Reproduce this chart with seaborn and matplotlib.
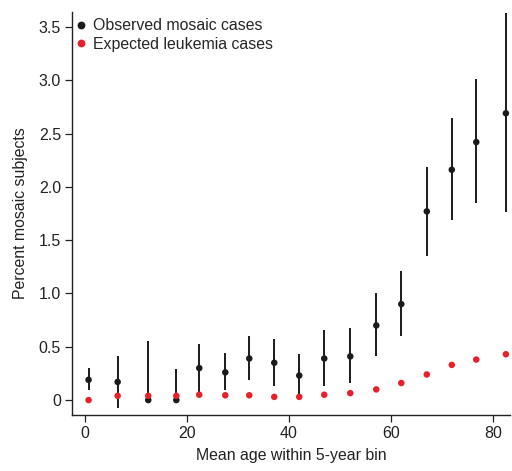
import numpy as np
import pandas as pd
import matplotlib
matplotlib.use("Agg")
import matplotlib.pyplot as plt
import seaborn as sns

# Mean age per 5-year bin
age = [0.7, 6.4, 12.4, 17.9, 22.4, 27.5, 32.2, 37.1, 42.0, 46.9, 52.0, 57.1, 62.0, 67.0, 71.9, 76.7, 82.5]
# Observed mosaic cases (%) with error bar limits
observed = [0.19, 0.17, 0.0, 0.0, 0.30, 0.26, 0.39, 0.35, 0.23, 0.39, 0.41, 0.70, 0.90, 1.77, 2.16, 2.42, 2.69]
obs_low = [0.09, -0.07, 0.0, 0.0, 0.08, 0.09, 0.19, 0.13, 0.0, 0.13, 0.16, 0.41, 0.60, 1.35, 1.69, 1.85, 1.76]
obs_high = [0.30, 0.41, 0.55, 0.29, 0.53, 0.44, 0.60, 0.57, 0.43, 0.66, 0.68, 1.00, 1.21, 2.19, 2.65, 3.01, 3.63]
# Expected leukemia cases (%)
expected = [0.0, 0.04, 0.04, 0.04, 0.05, 0.045, 0.045, 0.03, 0.03, 0.05, 0.065, 0.10, 0.16, 0.24, 0.33, 0.38, 0.43]

sns.set_style("ticks")
plt.rcParams['font.family'] = ['Liberation Sans', 'DejaVu Sans']

df = pd.DataFrame({
    "age": age * 2,
    "pct": observed + expected,
    "series": ["Observed mosaic cases"] * len(age) + ["Expected leukemia cases"] * len(age),
})

fig = plt.figure(figsize=(5.12, 4.71), dpi=100)
ax = fig.add_axes([0.1406, 0.1189, 0.8554, 0.8556])

# error bars first so dots sit on top
ax.vlines(age, obs_low, obs_high, color="#1a1a1a", lw=1.4, zorder=1)

sns.scatterplot(data=df, x="age", y="pct", hue="series",
                palette={"Observed mosaic cases": "#1a1a1a", "Expected leukemia cases": "#e8202a"},
                s=22, edgecolor="none", ax=ax, zorder=2)

ax.set_xlim(-2.55, 83.3)
ax.set_ylim(-0.14, 3.64)
ax.set_xticks([0, 20, 40, 60, 80])
ax.set_yticks([0, 0.5, 1.0, 1.5, 2.0, 2.5, 3.0, 3.5])
ax.set_yticklabels(["0", "0.5", "1.0", "1.5", "2.0", "2.5", "3.0", "3.5"])
ax.tick_params(direction="out", length=5, width=0.9, labelsize=11.5, colors="#222222", pad=3)
for s in ["left", "bottom"]:
    ax.spines[s].set_linewidth(1.0)
    ax.spines[s].set_color("#222222")
sns.despine(ax=ax)

ax.set_xlabel("Mean age within 5-year bin", fontsize=11.4, color="#222222", labelpad=5)
ax.set_ylabel("Percent mosaic subjects", fontsize=11.4, color="#222222", labelpad=8)

ax.legend(title=None, frameon=False, loc="upper left", fontsize=11.4,
          borderaxespad=0.0, handlelength=1.0, handletextpad=0.25, labelspacing=0.2,
          markerscale=1.2, bbox_to_anchor=(-0.012, 1.0))

fig.savefig("out.png", dpi=100)
